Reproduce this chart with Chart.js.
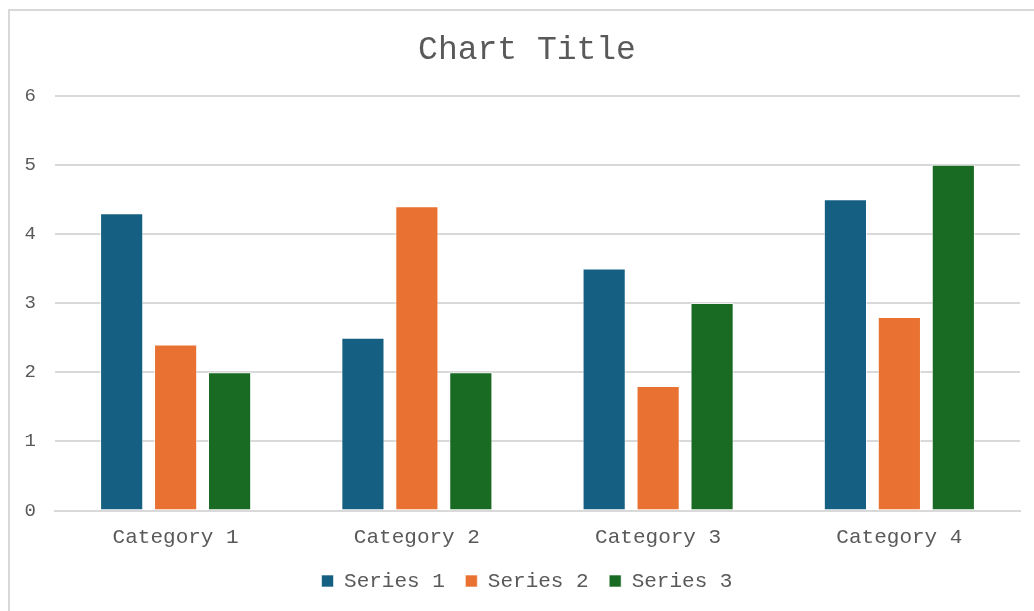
<!DOCTYPE html>
<html>
<head>
<meta charset="utf-8">
<script src="https://cdn.jsdelivr.net/npm/chart.js@4/dist/chart.umd.min.js"></script>
<style>
  html, body { margin: 0; padding: 0; background: #fff; overflow: hidden; }
  #frame {
    position: absolute; left: 8px; top: 9px; width: 1100px; height: 700px;
    border: 2px solid #d9d9d9; box-sizing: border-box;
  }
  #wrap { position: absolute; left: 0; top: 0; width: 1034px; height: 611px; }
</style>
</head>
<body>
<div id="frame"></div>
<div id="wrap"><canvas id="chart"></canvas></div>
<script>
// 資料
const categories = ["Category 1", "Category 2", "Category 3", "Category 4"];
const series1 = [4.3, 2.5, 3.5, 4.5];
const series2 = [2.4, 4.4, 1.8, 2.8];
const series3 = [2, 2, 3, 5];
const seriesNames = ["Series 1", "Series 2", "Series 3"];
const seriesColors = ["#156082", "#e97132", "#196b24"];

const monoFont = "'Liberation Mono', 'DejaVu Sans Mono', monospace";
const textColor = "#595959";

const chartData = {
  labels: categories,
  datasets: [series1, series2, series3].map((values, i) => ({
    label: seriesNames[i],
    data: values,
    backgroundColor: seriesColors[i],
    borderColor: "rgba(255, 255, 255, 0.6)",
    borderWidth: 1,
    categoryPercentage: 0.671,
    barPercentage: 0.8,
  })),
};

new Chart(document.getElementById("chart"), {
  type: "bar",
  data: chartData,
  options: {
    responsive: true,
    maintainAspectRatio: false,
    animation: false,
    layout: {
      padding: { left: 24, right: 4, top: 12, bottom: 9.5 },
    },
    plugins: {
      title: {
        display: true,
        text: "Chart Title",
        color: textColor,
        font: { family: monoFont, size: 33, weight: "normal" },
        padding: { top: 18, bottom: 26 },
      },
      legend: {
        position: "bottom",
        labels: {
          color: textColor,
          font: { family: monoFont, size: 21 },
          boxWidth: 12,
          boxHeight: 12,
          padding: 20.5,
        },
      },
      tooltip: { enabled: false },
    },
    scales: {
      x: {
        grid: { display: false },
        border: { color: "#d9d9d9", width: 2 },
        ticks: {
          color: textColor,
          font: { family: monoFont, size: 21 },
          padding: 6,
        },
        afterFit: (scale) => {
          scale.height = 39.5;
        },
      },
      y: {
        min: 0,
        max: 6,
        border: { display: false },
        grid: { color: "#d9d9d9", lineWidth: 2, drawTicks: false },
        ticks: {
          stepSize: 1,
          color: textColor,
          font: { family: monoFont, size: 19 },
          padding: 19,
        },
        afterFit: (scale) => {
          scale.width = 31;
        },
      },
      // 右側留白用
      yRight: {
        position: "right",
        grid: { display: false },
        border: { display: false },
        ticks: { display: false },
        afterFit: (scale) => {
          scale.width = 10;
        },
      },
    },
  },
});
</script>
</body>
</html>
